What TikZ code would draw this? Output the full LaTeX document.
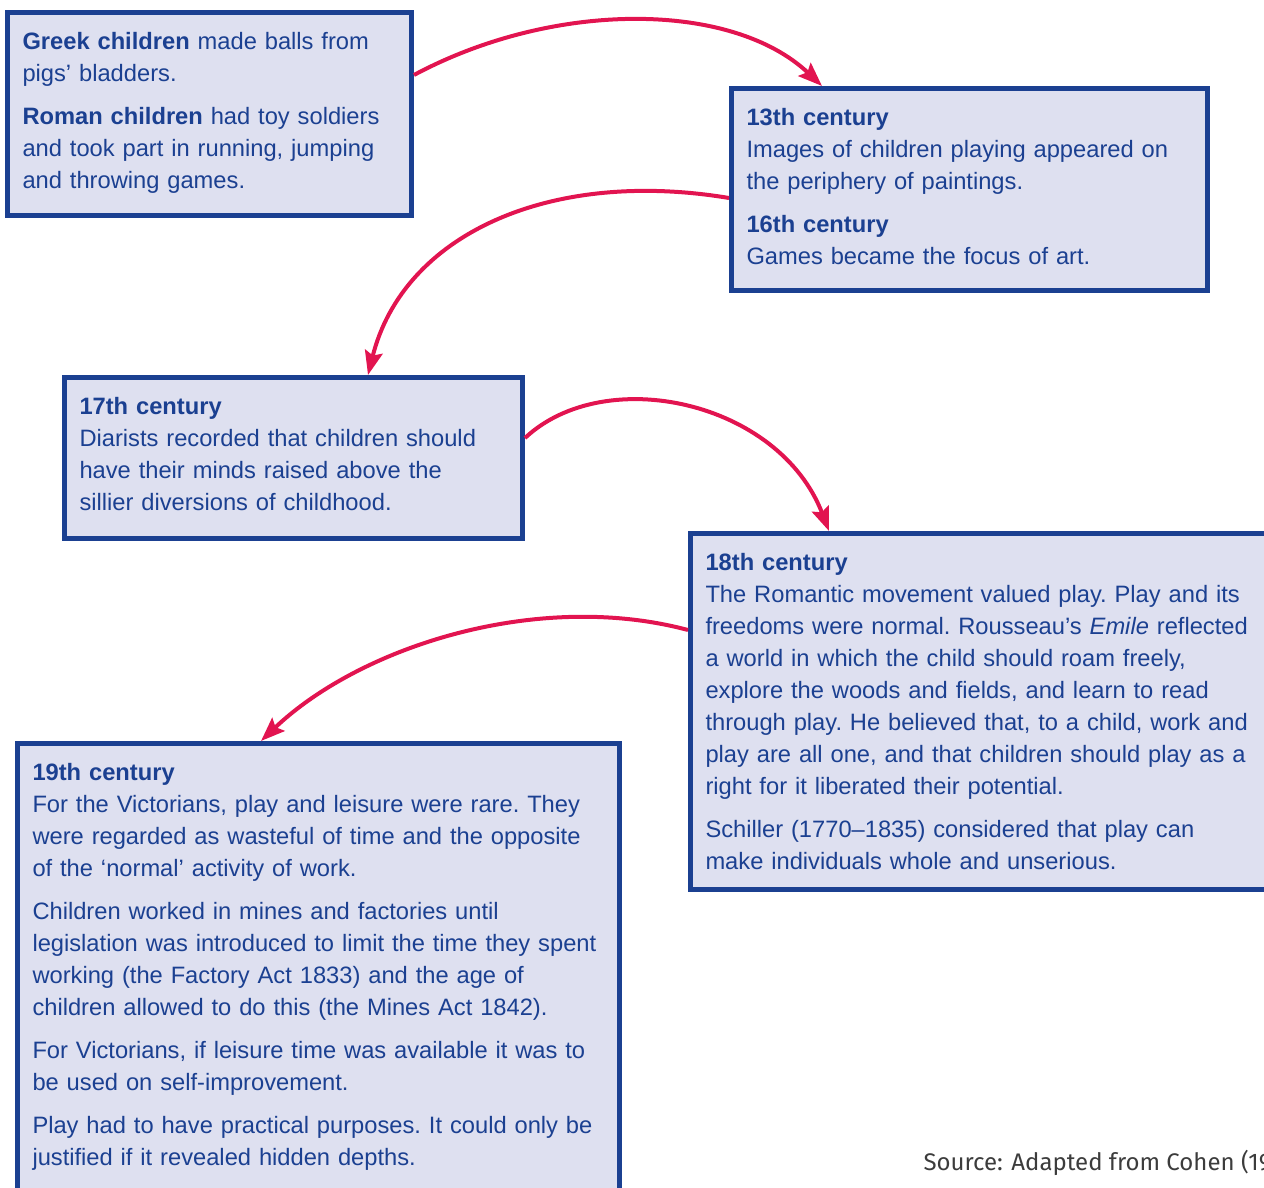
\documentclass[tikz,border=0pt]{standalone}
\usepackage{fontspec}
\setmainfont{Liberation Sans}
\newfontfamily\sourcefont{Fira Sans}
\usetikzlibrary{arrows.meta}

\definecolor{boxblue}{RGB}{27,64,145}
\definecolor{boxfill}{RGB}{222,224,240}
\definecolor{arrowred}{RGB}{226,20,80}
\definecolor{srcgray}{RGB}{60,60,60}

\begin{document}
\begin{tikzpicture}[x=1pt,y=1pt,
  period/.style={draw=boxblue,line width=5pt,fill=boxfill,anchor=north west,
    inner xsep=15pt,inner ysep=20pt,align=left,text=boxblue,
    font=\fontsize{23.7pt}{32pt}\selectfont\frenchspacing},
  flow/.style={draw=arrowred,line width=4pt,
    -{Stealth[length=24pt,width=18pt,inset=4pt]}}]
\useasboundingbox (0,0) rectangle (1264,1188);
\clip (0,0) rectangle (1264,1188);
% boxes, placed by their top left corner
\node [period,text width=374pt] (b1) at (5,1178) {\textbf{Greek children} made balls from\\
pigs’ bladders.\\[11pt]
\textbf{Roman children} had toy soldiers\\
and took part in running, jumping\\
and throwing games.\par\vspace{2pt}};
\node [period,text width=446pt] (b2) at (729,1102) {\textbf{13th century}\\
Images of children playing appeared on\\
the periphery of paintings.\\[11pt]
\textbf{16th century}\\
Games became the focus of art.\par\vspace{6pt}};
\node [period,text width=428pt] (b3) at (62,813) {\textbf{17th century}\\
Diarists recorded that children should\\
have their minds raised above the\\
sillier diversions of childhood.\par\vspace{8pt}};
\node [period,text width=556pt] (b4) at (688,657) {\textbf{18th century}\\
The Romantic movement valued play. Play and its\\
freedoms were normal. Rousseau’s \textit{Emile} reflected\\
a world in which the child should roam freely,\\
explore the woods and fields, and learn to read\\
through play. He believed that, to a child, work and\\
play are all one, and that children should play as a\\
right for it liberated their potential.\\[11pt]
Schiller (1770–1835) considered that play can\\
make individuals whole and unserious.};
\node [period,text width=572pt] (b5) at (15,447) {\textbf{19th century}\\
For the Victorians, play and leisure were rare. They\\
were regarded as wasteful of time and the opposite\\
of the ‘normal’ activity of work.\\[11pt]
Children worked in mines and factories until\\
legislation was introduced to limit the time they spent\\
working (the Factory Act 1833) and the age of\\
children allowed to do this (the Mines Act 1842).\\[11pt]
For Victorians, if leisure time was available it was to\\
be used on self-improvement.\\[11pt]
Play had to have practical purposes. It could only be\\
justified if it revealed hidden depths.\par\vspace{40pt}};
% arrows between the periods
\draw [flow] ([yshift=-65pt]b1.north east) .. controls +(140,75) and +(-90,85) .. ([xshift=93pt]b2.north west);
\draw [flow] ([yshift=-112pt]b2.north west) .. controls +(-180,30) and +(35,140) .. ([xshift=306pt]b3.north west);
\draw [flow] ([yshift=-63pt]b3.north east) .. controls +(80,75) and +(-50,130) .. ([xshift=141pt]b4.north west);
\draw [flow] ([yshift=-99pt]b4.north west) .. controls +(-150,40) and +(100,95) .. ([xshift=246pt]b5.north west);
\node [anchor=base west,text=srcgray,font=\sourcefont\fontsize{24pt}{28pt}\selectfont] (src) at (920,17.5) {Source: Adapted from Cohen (1987)};
\end{tikzpicture}
\end{document}
